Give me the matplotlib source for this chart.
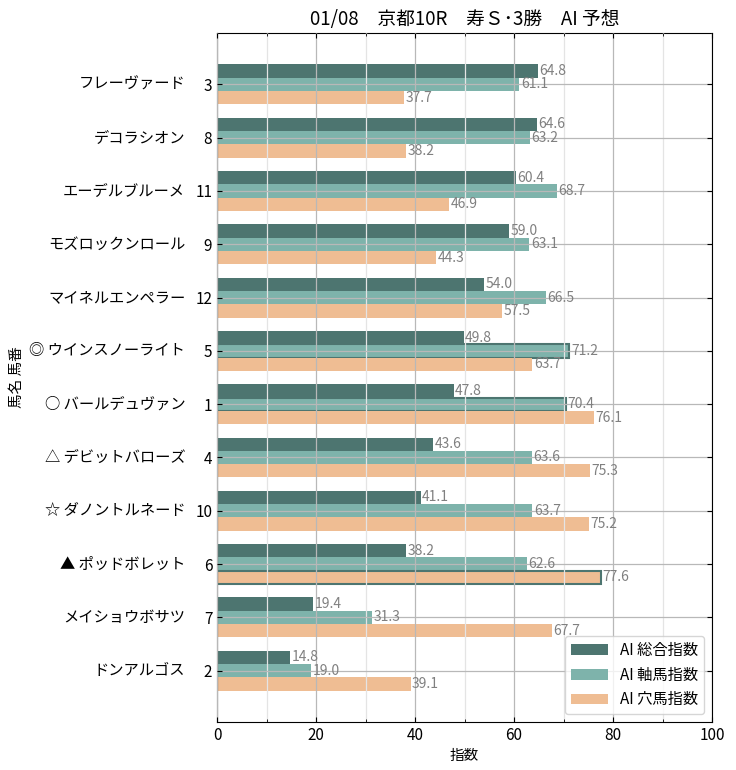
import numpy as np
import matplotlib
matplotlib.use("Agg")
import matplotlib.pyplot as plt

plt.rcParams['font.family'] = ['Noto Sans CJK JP', 'DejaVu Sans']

names = ["フレーヴァード", "デコラシオン", "エーデルブルーメ", "モズロックンロール",
         "マイネルエンペラー", "◎ ウインスノーライト", "○ バールデュヴァン", "△ デビットバローズ",
         "☆ ダノントルネード", "▲ ポッドボレット", "メイショウボサツ", "ドンアルゴス"]
numbers = ["3", "8", "11", "9", "12", "5", "1", "4", "10", "6", "7", "2"]
sougou = [64.8, 64.6, 60.4, 59.0, 54.0, 49.8, 47.8, 43.6, 41.1, 38.2, 19.4, 14.8]
jiku = [61.1, 63.2, 68.7, 63.1, 66.5, 71.2, 70.4, 63.6, 63.7, 62.6, 31.3, 19.0]
ana = [37.7, 38.2, 46.9, 44.3, 57.5, 63.7, 76.1, 75.3, 75.2, 77.6, 67.7, 39.1]
# bars drawn with an outline in the original
jiku_marked = ["5", "1"]
ana_marked = ["6"]

c_sougou = "#4d7570"
c_jiku = "#7eb3ab"
c_ana = "#efbd93"

fig = plt.figure(figsize=(7.36, 7.70), dpi=100)
ax = fig.add_axes([0.295, 0.0623, 0.6724, 0.8948])

y = np.arange(len(names))
h = 0.25
b1 = ax.barh(y - h, sougou, height=h, color=c_sougou, label="AI 総合指数")
b2 = ax.barh(y, jiku, height=h, color=c_jiku, label="AI 軸馬指数")
b3 = ax.barh(y + h, ana, height=h, color=c_ana, label="AI 穴馬指数")

for i, n in enumerate(numbers):
    if n in jiku_marked:
        b2[i].set_edgecolor(c_sougou)
        b2[i].set_linewidth(1.5)
    if n in ana_marked:
        b3[i].set_edgecolor(c_sougou)
        b3[i].set_linewidth(1.5)

for bars, vals in [(b1, sougou), (b2, jiku), (b3, ana)]:
    for bar, v in zip(bars, vals):
        ax.text(v + 0.3, bar.get_y() + bar.get_height() / 2, f"{v:.1f}",
                va="center", ha="left", fontsize=10, color="#808080")

ax.set_xlim(0, 100)
ax.set_xticks(range(0, 101, 20))
ax.set_xticks(range(10, 100, 20), minor=True)
ax.set_yticks(y)
ax.set_yticklabels(numbers, fontsize=11)
ax.tick_params(axis="x", labelsize=11)
ax.invert_yaxis()

for i, nm in enumerate(names):
    ax.annotate(nm, xy=(0, y[i]), xycoords=ax.get_yaxis_transform(),
                xytext=(-23, 0), textcoords="offset points",
                ha="right", va="center", fontsize=11)

ax.tick_params(which="both", direction="in", top=True, right=True)
ax.grid(True, which="major", color="#b8b8b8", linewidth=0.9)
ax.grid(True, which="minor", axis="x", color="#e4e4e4", linewidth=0.9)
ax.set_axisbelow(False)

ax.set_xlabel("指数", fontsize=10.5)
ax.set_ylabel("馬名 馬番", fontsize=10.5)
ax.yaxis.set_label_coords(-0.39, 0.5)
ax.set_title("01/08　京都10R　寿Ｓ･3勝　AI 予想", fontsize=13.5)

ax.legend(loc="lower right", fontsize=11, handlelength=2.4)

fig.savefig("out.png", dpi=100)
